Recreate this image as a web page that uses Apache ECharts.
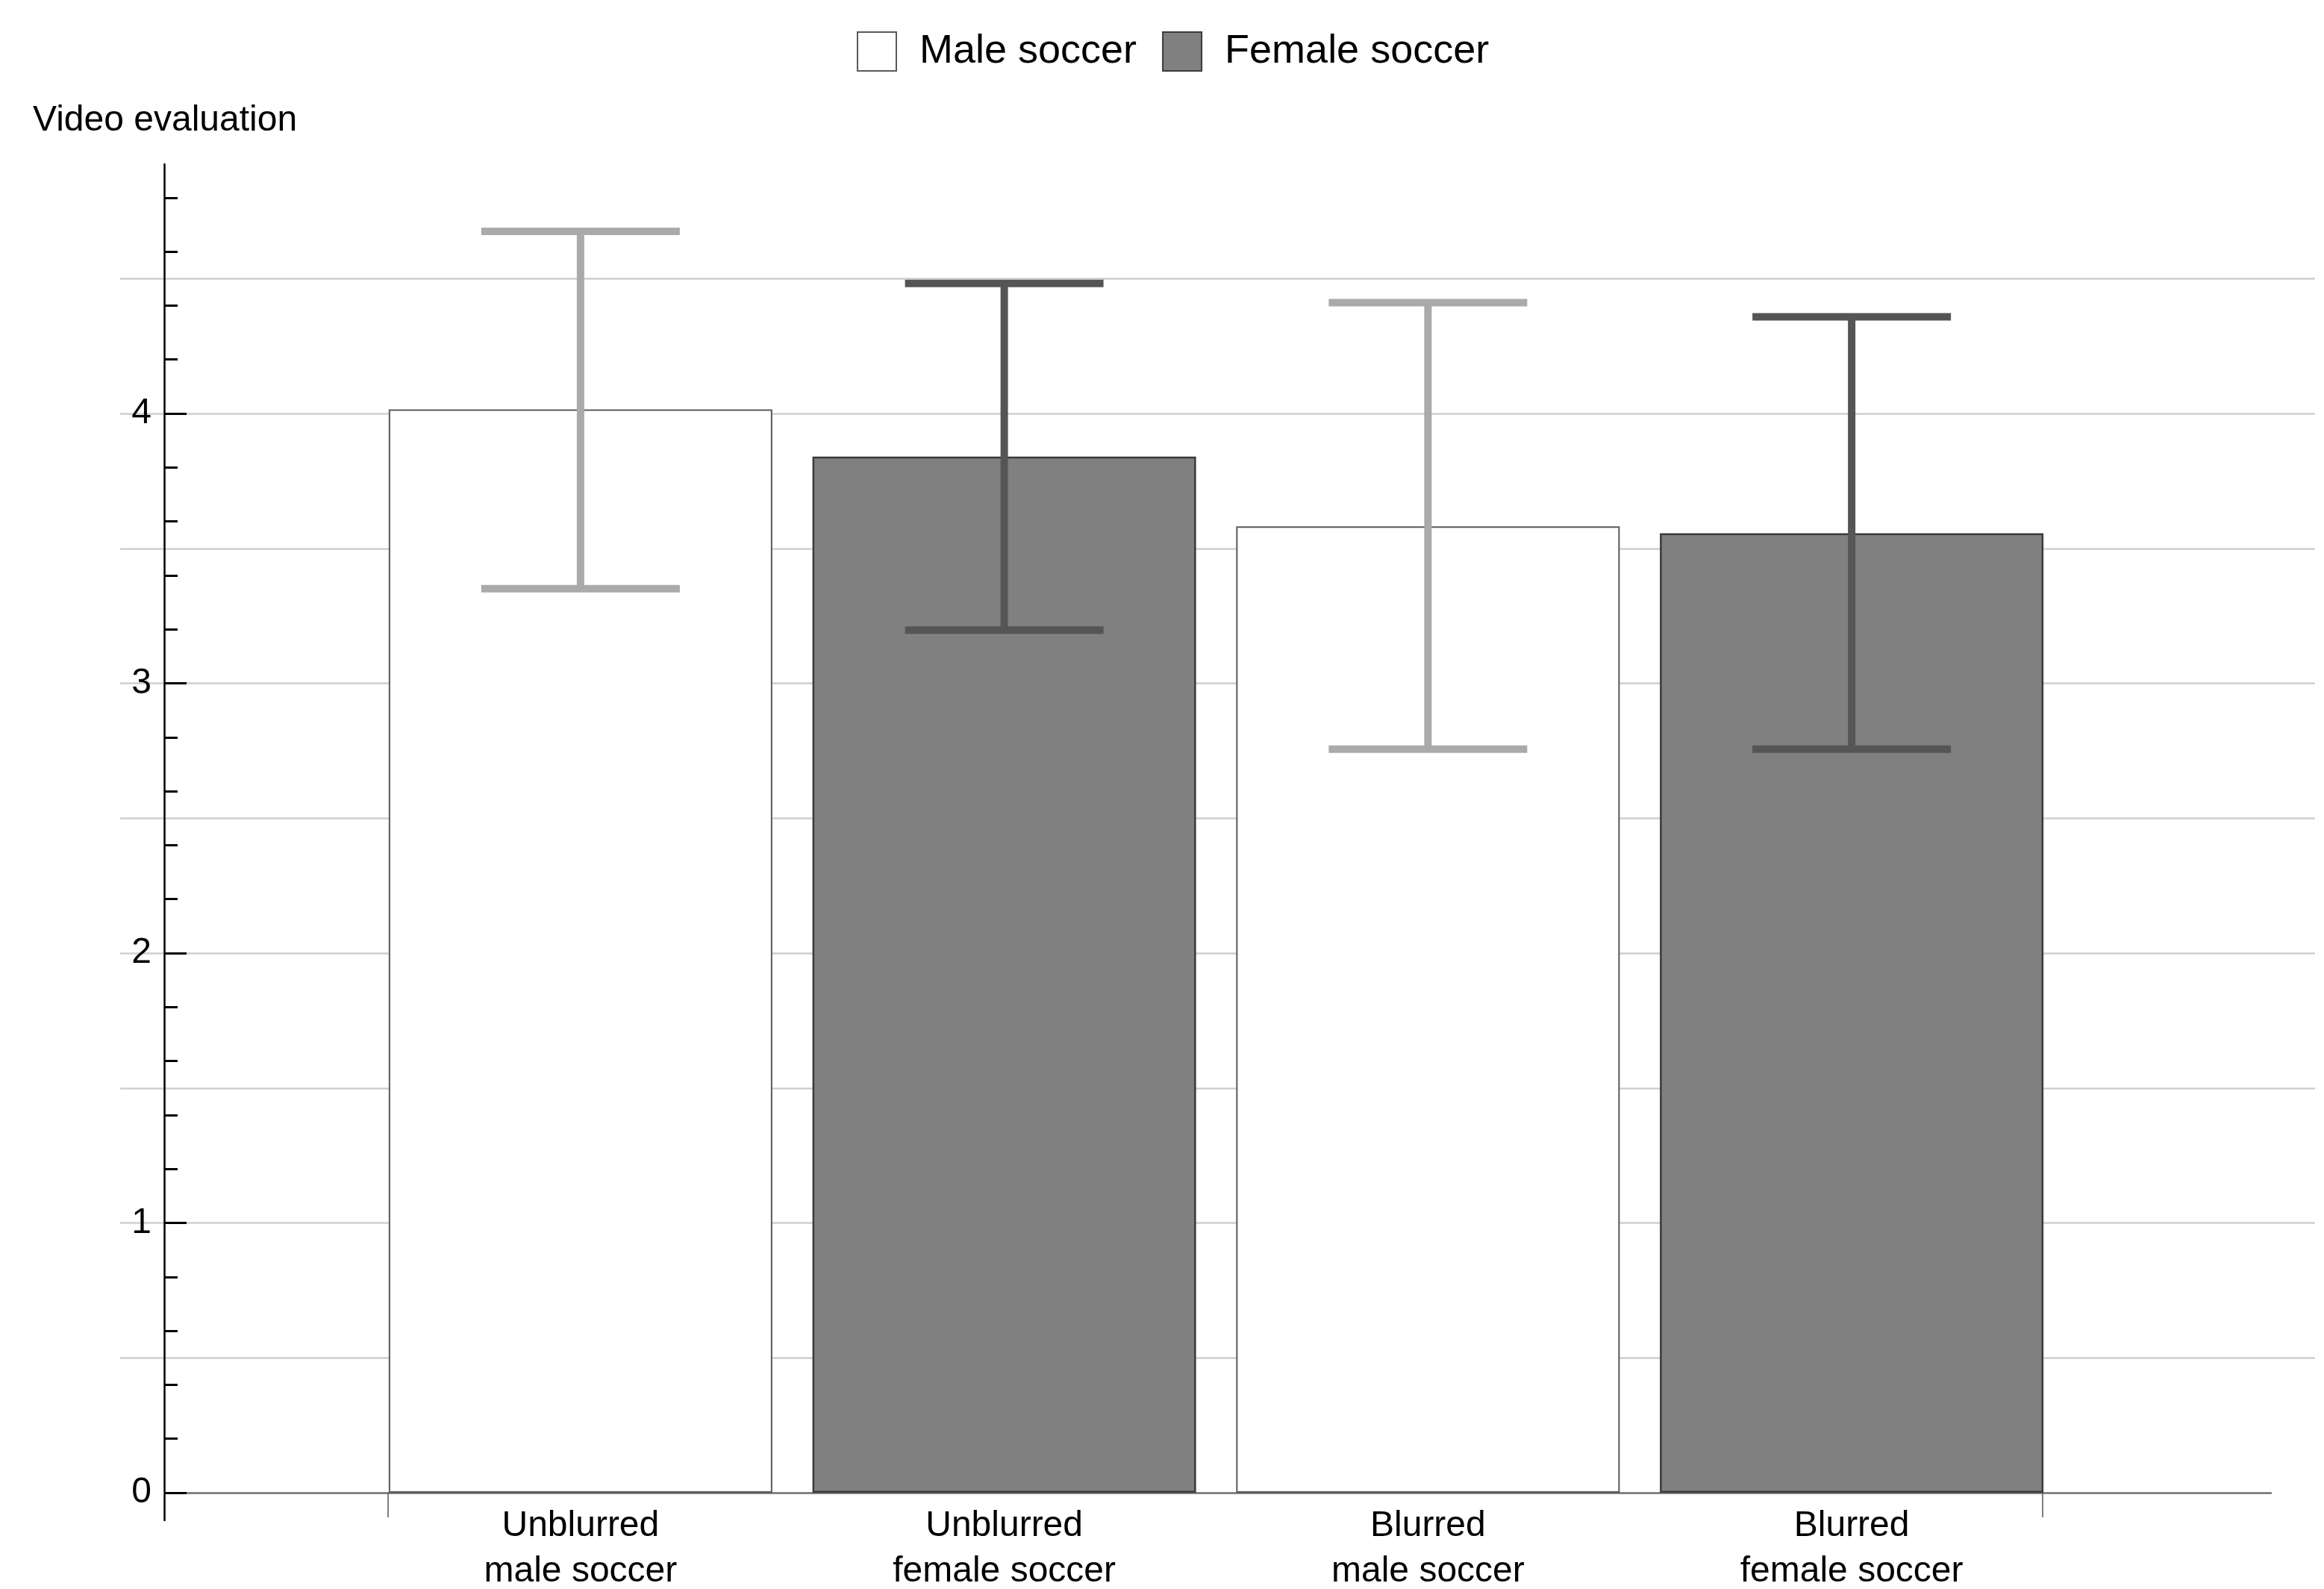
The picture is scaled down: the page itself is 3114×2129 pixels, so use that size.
<!DOCTYPE html>
<html>
<head>
<meta charset="utf-8">
<script src="https://cdn.jsdelivr.net/npm/echarts@6/dist/echarts.min.js"></script>
<style>
html,body{margin:0;padding:0;background:#fff;}
#chart{width:3114px;height:2129px;}
</style>
</head>
<body>
<div id="chart"></div>
<script>
// ---- data ----
const categories = ['Unblurred\nmale soccer', 'Unblurred\nfemale soccer', 'Blurred\nmale soccer', 'Blurred\nfemale soccer'];
const seriesNames = ['Male soccer', 'Female soccer'];
const maleMeans = [4.015, null, 3.582, null];
const femaleMeans = [null, 3.84, null, 3.556];
const errLow = [3.351, 3.197, 2.756, 2.756];
const errHigh = [4.675, 4.482, 4.411, 4.358];
const errGroup = [0, 1, 0, 1];
const yTickLabels = [0, 1, 2, 3, 4];
const yMinorTicks = [0.2,0.4,0.6,0.8,1.2,1.4,1.6,1.8,2.2,2.4,2.6,2.8,3.2,3.4,3.6,3.8,4.2,4.4,4.6,4.8];
const yGridValues = [0.5,1,1.5,2,2.5,3,3.5,4,4.5];
const yMax = 4.924;
const yLineMin = -0.1024;

const FONT = "'Liberation Sans', Arial, Helvetica, sans-serif";
const errColors = ['#aaaaaa', '#555555'];

const chart = echarts.init(document.getElementById('chart'), null, {renderer: 'canvas'});

const hiddenX = (gi) => ({type: 'value', gridIndex: gi, show: false, min: 0, max: 1});
const mkGrid = (l, r, t, b) => ({left: l, right: r, top: t, bottom: b, containLabel: false, outerBoundsMode: 'none'});
const option = {
  animation: false,
  backgroundColor: '#ffffff',
  textStyle: {fontFamily: FONT, color: '#000'},
  title: {
    text: 'Video evaluation', left: 44, top: 134, padding: 0,
    textStyle: {fontFamily: FONT, fontSize: 48, fontWeight: 'normal', color: '#000', lineHeight: 56}
  },
  legend: {
    data: seriesNames, left: 1148, top: 42, padding: 0,
    icon: 'rect', itemWidth: 52, itemHeight: 52, itemGap: 34,
    textStyle: {fontFamily: FONT, fontSize: 54, color: '#000', padding: [0, 0, 0, 26]}
  },
  grid: [
    mkGrid(161, 12, 220, 129),   // 0 gridlines
    mkGrid(220, 71, 220, 92),    // 1 y axis line
    mkGrid(220, 71, 220, 129),   // 2 major ticks, labels, x axis line
    mkGrid(220, 71, 220, 129),   // 3 minor ticks
    mkGrid(494, 349, 220, 129),  // 4 bars
    mkGrid(520, 377, 220, 129)   // 5 boundary ticks
  ],
  xAxis: [
    hiddenX(0),
    hiddenX(1),
    {type: 'value', gridIndex: 2, min: 0, max: 1,
      axisLine: {show: true, lineStyle: {color: '#6e6e6e', width: 2.5}},
      axisTick: {show: false}, axisLabel: {show: false}, splitLine: {show: false}},
    hiddenX(3),
    {type: 'category', gridIndex: 4, data: categories,
      axisLine: {show: false}, axisTick: {show: false},
      axisLabel: {fontFamily: FONT, fontSize: 48, lineHeight: 61, color: '#000', margin: 14, interval: 0}},
    {type: 'category', gridIndex: 5, data: [''], boundaryGap: true,
      axisLine: {show: false}, axisLabel: {show: false},
      axisTick: {show: true, length: 33, lineStyle: {color: '#555', width: 1.5}}}
  ],
  yAxis: [
    {type: 'value', gridIndex: 0, min: 0, max: yMax,
      axisLine: {show: false}, axisLabel: {show: false},
      axisTick: {show: false, customValues: yGridValues},
      splitLine: {show: true, lineStyle: {color: '#cfcfcf', width: 2.5}}},
    {type: 'value', gridIndex: 1, min: yLineMin, max: yMax,
      axisLine: {show: true, lineStyle: {color: '#000', width: 2.5}},
      axisTick: {show: false}, axisLabel: {show: false}, splitLine: {show: false}},
    {type: 'value', gridIndex: 2, min: 0, max: yMax,
      axisLine: {show: false},
      axisTick: {show: true, inside: true, length: 30, customValues: yTickLabels, lineStyle: {color: '#000', width: 3}},
      axisLabel: {show: true, customValues: yTickLabels, fontFamily: FONT, fontSize: 48, color: '#000', margin: 17},
      splitLine: {show: false}},
    {type: 'value', gridIndex: 3, min: 0, max: yMax,
      axisLine: {show: false},
      axisTick: {show: true, inside: true, length: 18, customValues: yMinorTicks, lineStyle: {color: '#000', width: 3}},
      axisLabel: {show: false}, splitLine: {show: false}},
    {type: 'value', gridIndex: 4, min: 0, max: yMax, show: false},
    {type: 'value', gridIndex: 5, min: 0, max: yMax, show: false}
  ],
  series: [
    {name: seriesNames[0], type: 'bar', xAxisIndex: 4, yAxisIndex: 4, data: maleMeans,
      barWidth: 514, barGap: '-100%', z: 3,
      itemStyle: {color: '#ffffff', borderColor: '#5a5a5a', borderWidth: 2}},
    {name: seriesNames[1], type: 'bar', xAxisIndex: 4, yAxisIndex: 4, data: femaleMeans,
      barWidth: 514, barGap: '-100%', z: 3,
      itemStyle: {color: '#808080', borderColor: '#3a3a3a', borderWidth: 2.5}},
    {name: 'err', type: 'custom', xAxisIndex: 4, yAxisIndex: 4, z: 5,
      data: categories.map((c, i) => [i, errLow[i], errHigh[i], errGroup[i]]),
      renderItem: function (params, api) {
        const x = api.value(0);
        const pLo = api.coord([x, api.value(1)]);
        const pHi = api.coord([x, api.value(2)]);
        const color = errColors[api.value(3)];
        const half = 133;
        const st = {stroke: color, lineWidth: 10};
        return {type: 'group', children: [
          {type: 'line', shape: {x1: pHi[0], y1: pHi[1], x2: pLo[0], y2: pLo[1]}, style: st},
          {type: 'line', shape: {x1: pHi[0] - half, y1: pHi[1], x2: pHi[0] + half, y2: pHi[1]}, style: st},
          {type: 'line', shape: {x1: pLo[0] - half, y1: pLo[1], x2: pLo[0] + half, y2: pLo[1]}, style: st}
        ]};
      }
    }
  ]
};
chart.setOption(option);
</script>
</body>
</html>
